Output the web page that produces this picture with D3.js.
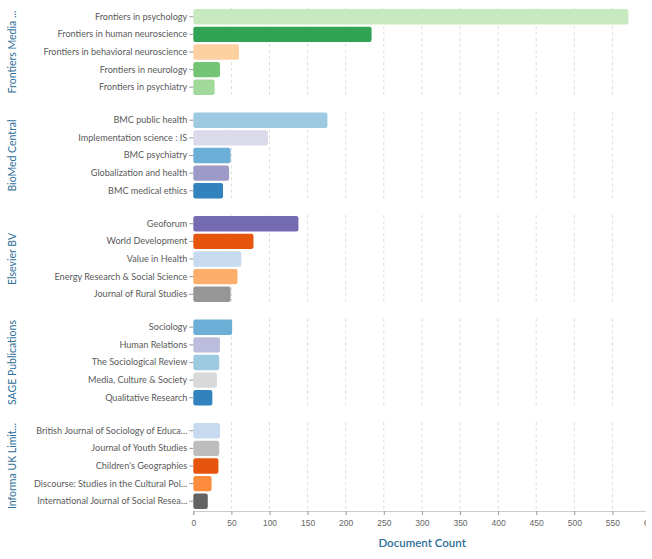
<!DOCTYPE html>
<html><head><meta charset="utf-8">
<script src="https://cdn.jsdelivr.net/npm/d3@7"></script>
<style>
html,body{margin:0;padding:0;background:#fff;}
svg{display:block;font-family:Lato, "Open Sans", sans-serif;}
</style></head>
<body><svg id="chart" width="646" height="559"></svg>
<script>
const publishers = ["Frontiers Media ...", "BioMed Central", "Elsevier BV", "SAGE Publications", "Informa UK Limit..."];
const journals = [
  ["Frontiers in psychology", "Frontiers in human neuroscience", "Frontiers in behavioral neuroscience", "Frontiers in neurology", "Frontiers in psychiatry"],
  ["BMC public health", "Implementation science : IS", "BMC psychiatry", "Globalization and health", "BMC medical ethics"],
  ["Geoforum", "World Development", "Value in Health", "Energy Research & Social Science", "Journal of Rural Studies"],
  ["Sociology", "Human Relations", "The Sociological Review", "Media, Culture & Society", "Qualitative Research"],
  ["British Journal of Sociology of Educa...", "Journal of Youth Studies", "Children's Geographies", "Discourse: Studies in the Cultural Pol...", "International Journal of Social Resea..."]
];
const counts = [
  [571, 234, 60, 35, 28],
  [176, 98, 49, 47, 39],
  [138, 79, 63, 58, 49],
  [51, 35, 34, 31, 25],
  [35, 34, 33, 24, 19]
];
const colors = [
  ["#c7e9c0", "#31a354", "#fdd0a2", "#74c476", "#a1d99b"],
  ["#9ecae1", "#dadaeb", "#6baed6", "#9e9ac8", "#3182bd"],
  ["#756bb1", "#e6550d", "#c6dbef", "#fdae6b", "#969696"],
  ["#6baed6", "#bcbddc", "#9ecae1", "#d9d9d9", "#3182bd"],
  ["#c6dbef", "#bdbdbd", "#e6550d", "#fd8d3c", "#636363"]
];
const xTicks = [0, 50, 100, 150, 200, 250, 300, 350, 400, 450, 500, 550, 600];
const xTitle = "Document Count";

const svg = d3.select("#chart");
const left = 193.3, right = 650.5;
const x = d3.scaleLinear().domain([0, 600]).range([left, right]);
const facetTop = 8, facetH = 88, facetStep = 103.5;
const titleColor = "#2f6f98";

publishers.forEach((pub, i) => {
  const top = facetTop + i * facetStep;
  const y = d3.scaleBand().domain(journals[i]).range([top, top + facetH]).paddingInner(0.13).paddingOuter(0.06);
  const g = svg.append("g");
  g.selectAll("line.grid").data(xTicks.filter(t => t > 0)).join("line")
    .attr("x1", d => x(d)).attr("x2", d => x(d))
    .attr("y1", top).attr("y2", top + facetH)
    .attr("stroke", "#dcdcdc").attr("stroke-dasharray", "3,3").attr("stroke-width", 1);
  g.selectAll("rect").data(journals[i].map((j, k) => ({j, v: counts[i][k], c: colors[i][k]}))).join("rect")
    .attr("x", x(0)).attr("y", d => y(d.j))
    .attr("width", d => x(d.v) - x(0)).attr("height", y.bandwidth())
    .attr("rx", 2.2).attr("fill", d => d.c);
  const ya = g.append("g").attr("transform", `translate(${x(0)},0)`)
    .call(d3.axisLeft(y).tickSize(4).tickPadding(2));
  ya.select(".domain").remove();
  ya.selectAll(".tick line").attr("stroke", "#999");
  ya.selectAll(".tick text").attr("fill", "#5a5a5a").style("font-size", "9.1px").style("font-family", "Lato, sans-serif");
  svg.append("text").attr("transform", `translate(16,${top + facetH / 2}) rotate(-90)`)
    .attr("text-anchor", "middle").attr("fill", titleColor)
    .style("font-size", "10.5px").text(pub);
});

const axisY = facetTop + 4 * facetStep + facetH + 1;
const xa = svg.append("g").attr("transform", `translate(0,${axisY})`)
  .call(d3.axisBottom(x).tickValues(xTicks).tickSize(4).tickPadding(5));
xa.select(".domain").attr("stroke", "#ccc");
xa.selectAll(".tick line").attr("stroke", "#999");
xa.selectAll(".tick text").attr("fill", "#666").style("font-size", "8.5px");

svg.append("text").attr("x", (x(0) + 651) / 2).attr("y", 547).attr("text-anchor", "middle")
  .attr("fill", titleColor).style("font-size", "11.5px").style("font-weight", "600").text(xTitle);
</script></body></html>
